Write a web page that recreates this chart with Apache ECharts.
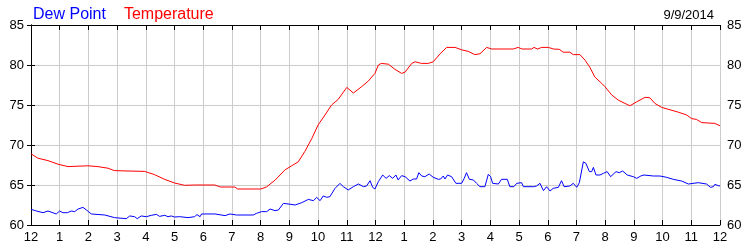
<!DOCTYPE html>
<html>
<head>
<meta charset="utf-8">
<script src="https://cdn.jsdelivr.net/npm/echarts@6/dist/echarts.min.js"></script>
<style>
html,body{margin:0;padding:0;background:#fff;}
#c{width:750px;height:250px;}
</style>
</head>
<body>
<div id="c"></div>
<script>
const hourTicks = [0,1,2,3,4,5,6,7,8,9,10,11,12,13,14,15,16,17,18,19,20,21,22,23,24];
const tickLabels = ['12','1','2','3','4','5','6','7','8','9','10','11','12','1','2','3','4','5','6','7','8','9','10','11','12'];
const yTicks = [60,65,70,75,80,85];
const dateLabel = '9/9/2014';

const tempHours = [0,0.24,0.59,0.94,1.29,1.98,2.33,2.68,2.9,3.38,3.96,4.3,4.66,5.0,5.35,5.7,6.4,6.6,7.1,7.2,8.0,8.05,8.2,8.5,8.85,9.08,9.31,9.54,9.78,10.0,10.24,10.47,10.7,11.0,11.23,11.52,11.75,11.98,12.1,12.2,12.45,12.68,12.91,13.03,13.26,13.38,13.6,13.84,14.01,14.25,14.48,14.77,15.0,15.23,15.46,15.64,15.87,16.05,16.8,16.97,17.1,17.44,17.52,17.64,17.79,18.02,18.2,18.4,18.54,18.77,18.89,19.12,19.3,19.47,19.64,19.88,19.99,20.23,20.46,20.69,20.86,21.1,21.39,21.56,21.73,21.97,22.26,22.55,22.84,23.01,23.18,23.36,23.82,24.0];
const tempValues = [68.9,68.35,68.05,67.6,67.3,67.4,67.3,67.1,66.8,66.75,66.7,66.3,65.7,65.25,64.96,65.0,65.0,64.75,64.75,64.5,64.5,64.75,64.75,65.6,66.9,67.4,67.9,69.2,70.8,72.5,73.75,75.0,75.7,77.2,76.5,77.3,78.0,78.95,80.0,80.2,80.1,79.45,78.95,79.1,80.2,80.4,80.2,80.2,80.4,81.4,82.2,82.2,81.9,81.7,81.3,81.4,82.2,82.0,82.0,82.2,82.0,82.0,82.2,82.0,82.2,82.2,82.0,81.96,81.6,81.6,81.3,81.3,80.6,79.7,78.5,77.7,77.3,76.25,75.6,75.2,74.9,75.4,75.96,75.9,75.2,74.7,74.4,74.1,73.75,73.3,73.2,72.8,72.7,72.4];

const dewHours = [0,0.19,0.42,0.59,0.88,1.0,1.11,1.17,1.27,1.40,1.52,1.64,1.81,1.93,2.10,2.57,2.91,3.32,3.44,3.61,3.70,3.84,4.02,4.19,4.37,4.48,4.66,4.77,4.89,5.00,5.18,5.47,5.70,5.78,5.89,5.94,6.41,6.76,6.93,7.16,7.74,7.86,8.03,8.21,8.33,8.50,8.62,8.79,9.02,9.20,9.43,9.66,9.84,9.95,10.07,10.18,10.30,10.41,10.59,10.76,10.88,11.05,11.23,11.40,11.58,11.69,11.81,11.90,11.98,12.10,12.25,12.37,12.48,12.60,12.71,12.79,12.91,13.03,13.20,13.32,13.43,13.51,13.61,13.72,13.87,14.01,14.19,14.27,14.36,14.42,14.51,14.65,14.80,15.00,15.09,15.17,15.27,15.41,15.52,15.64,15.81,15.93,16.01,16.08,16.28,16.39,16.59,16.68,16.82,16.92,17.09,17.15,17.50,17.61,17.73,17.85,17.96,18.08,18.19,18.37,18.48,18.57,18.77,18.89,19.01,19.10,19.24,19.33,19.45,19.53,19.59,19.68,19.82,19.94,20.07,20.19,20.38,20.49,20.61,20.77,20.98,21.10,21.24,21.35,21.68,21.91,22.14,22.37,22.66,22.90,23.24,23.53,23.67,23.77,23.82,23.94,24.0];
const dewValues = [61.96,61.75,61.54,61.75,61.38,61.75,61.54,61.79,61.54,61.75,61.67,62.0,62.2,61.88,61.38,61.25,60.92,60.79,61.13,61.04,60.79,61.13,61.04,61.21,61.33,61.08,61.21,61.04,61.13,61.0,61.04,60.92,61.04,61.3,61.04,61.38,61.38,61.17,61.38,61.25,61.25,61.46,61.67,61.67,62.0,61.79,61.88,62.7,62.6,62.5,62.79,63.2,63.04,63.46,63.04,63.63,63.46,63.54,64.58,65.2,64.79,64.38,64.79,65.13,64.79,64.88,65.54,64.71,64.5,65.42,66.25,65.83,66.17,65.83,66.25,65.63,66.17,66.04,65.5,65.75,65.75,66.54,66.125,66.04,66.375,65.96,65.71,65.75,66.125,65.75,66.25,66.04,65.21,65.21,65.83,66.54,65.71,65.63,65.21,64.79,64.79,66.33,66.04,65.21,65.125,65.71,65.71,64.79,64.79,65.21,65.29,64.79,64.79,64.875,65.21,64.29,64.79,64.25,64.58,64.71,65.54,64.79,64.875,65.21,64.71,65.29,67.9,67.7,66.67,66.67,67.2,66.25,66.25,66.46,66.67,66.04,66.67,66.54,66.75,66.25,66.04,65.83,66.125,66.25,66.125,66.125,65.96,65.71,65.5,65.125,65.29,65.125,64.71,64.79,65.08,64.92,64.875];

const chart = echarts.init(document.getElementById('c'), null, {renderer: 'canvas'});
const FONT = 'Liberation Sans, Arial, sans-serif';
const xMin = hourTicks[0], xMax = hourTicks[hourTicks.length - 1];
const yMin = yTicks[0], yMax = yTicks[yTicks.length - 1];

const yAxisBase = {
  type: 'value', min: yMin, max: yMax, interval: 5,
  axisLine: {show: true, lineStyle: {color: '#000', width: 1}},
  axisTick: {show: true, inside: true, length: 4, lineStyle: {color: '#000'}},
  axisLabel: {color: '#000', fontSize: 13, fontFamily: FONT, margin: 7}
};

chart.setOption({
  animation: false,
  backgroundColor: '#fff',
  title: {
    text: dateLabel, right: 31, top: 4,
    textStyle: {color: '#000', fontSize: 13, fontWeight: 'normal', fontFamily: FONT}
  },
  legend: {
    left: 23, top: 2, itemWidth: 0, itemHeight: 0, itemGap: 13,
    icon: 'rect',
    data: [
      {name: 'Dew Point', textStyle: {color: '#0000ff'}},
      {name: 'Temperature', textStyle: {color: '#ff0000'}}
    ],
    textStyle: {fontSize: 16, fontFamily: FONT}
  },
  grid: {left: 31, right: 30, top: 25, bottom: 25, containLabel: false},
  xAxis: [
    {
      type: 'value', min: xMin, max: xMax, interval: 1, position: 'bottom',
      axisLine: {show: true, lineStyle: {color: '#000', width: 1}},
      axisTick: {show: true, inside: true, length: 5, lineStyle: {color: '#000'}},
      axisLabel: {color: '#000', fontSize: 13, fontFamily: FONT, margin: 6,
        formatter: v => tickLabels[hourTicks.indexOf(v)]},
      splitLine: {show: true, lineStyle: {color: '#cccccc', width: 1}}
    },
    {
      type: 'value', min: xMin, max: xMax, interval: 1, position: 'top',
      axisLine: {show: true, lineStyle: {color: '#000', width: 1}},
      axisTick: {show: true, inside: true, length: 5, lineStyle: {color: '#000'}},
      axisLabel: {show: false},
      splitLine: {show: false}
    }
  ],
  yAxis: [
    Object.assign({}, yAxisBase, {position: 'left',
      splitLine: {show: true, lineStyle: {color: '#cccccc', width: 1}}}),
    Object.assign({}, yAxisBase, {position: 'right', splitLine: {show: false}})
  ],
  series: [
    {
      name: 'Dew Point', type: 'line', showSymbol: false, symbol: 'none',
      xAxisIndex: 0, yAxisIndex: 0,
      lineStyle: {color: '#0000ff', width: 1}, itemStyle: {color: '#0000ff'},
      data: dewHours.map((h, i) => [h, dewValues[i]])
    },
    {
      name: 'Temperature', type: 'line', showSymbol: false, symbol: 'none',
      xAxisIndex: 0, yAxisIndex: 0,
      lineStyle: {color: '#ff0000', width: 1}, itemStyle: {color: '#ff0000'},
      data: tempHours.map((h, i) => [h, tempValues[i]])
    }
  ]
});
</script>
</body>
</html>
